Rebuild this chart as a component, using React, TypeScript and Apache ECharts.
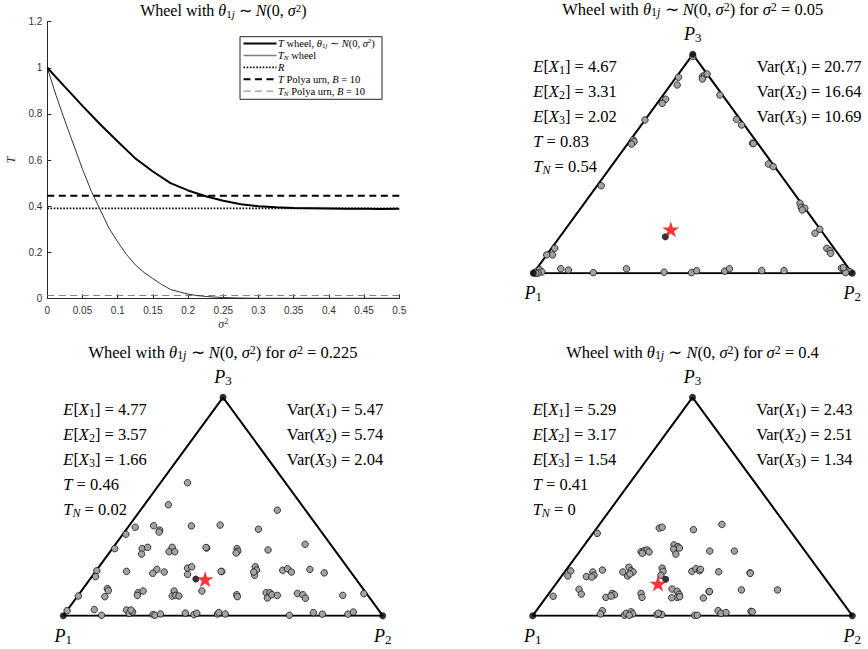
import React, { useEffect, useRef } from 'react';
import * as echarts from 'echarts';

// ---------- Top-left panel data ----------
const sigmaT = [0, 0.025, 0.05, 0.075, 0.1, 0.125, 0.15, 0.175, 0.2, 0.225, 0.25, 0.275, 0.3, 0.325, 0.35, 0.375, 0.4, 0.425, 0.45, 0.475, 0.5];
const tWheel = [1.0, 0.917, 0.835, 0.755, 0.68, 0.607, 0.55, 0.5, 0.468, 0.443, 0.423, 0.408, 0.399, 0.395, 0.392, 0.391, 0.39, 0.389, 0.389, 0.387, 0.388];
const sigmaTN = [0, 0.0125, 0.025, 0.0375, 0.05, 0.0625, 0.075, 0.0875, 0.1, 0.1125, 0.125, 0.1375, 0.15, 0.1625, 0.175, 0.1875, 0.2, 0.2125, 0.225, 0.25, 0.275, 0.3, 0.35, 0.4, 0.45, 0.5];
const tnWheel = [1.0, 0.88, 0.77, 0.665, 0.56, 0.465, 0.385, 0.305, 0.245, 0.19, 0.145, 0.112, 0.085, 0.06, 0.038, 0.028, 0.018, 0.012, 0.008, 0.003, 0.001, 0, 0, 0, 0, 0];
const rValue = 0.39;
const tPolya = 0.445;
const tnPolya = 0.012;
const legendLabels = [
  '{i|T} wheel, {i|θ}{sb|1}{sbi|j} ∼ {i|N}(0, {i|σ}{sp|2})',
  '{i|T}{sbi|N} wheel',
  '{i|R}',
  '{i|T} Polya urn, {i|B} = 10',
  '{i|T}{sbi|N} Polya urn, {i|B} = 10',
];

// ---------- Triangle panels data ----------
const panelSigma = ['0.05', '0.225', '0.4'];
const meanE = [[4.67, 3.31, 2.02], [4.77, 3.57, 1.66], [5.29, 3.17, 1.54]];
const varX = [[20.77, 16.64, 10.69], [5.47, 5.74, 2.04], [2.43, 2.51, 1.34]];
const tVals = [0.83, 0.46, 0.41];
const tnVals = [0.54, 0.02, 0];
const vertices = [[0, 0], [1, 0], [0.5, 1]];
const vertexNames = ['1', '2', '3'];

const pts005 = [
  [0.455, 0.895], [0.451, 0.86], [0.408, 0.791], [0.415, 0.795], [0.404, 0.776], [0.35, 0.7], [0.313, 0.609], [0.316, 0.601], [0.308, 0.59], [0.213, 0.4], [0.067, 0.114], [0.06, 0.084], [0.042, 0.084],
  [0.004, 0.004], [0.012, 0.01], [0.02, 0.016], [0.027, 0.006], [0.015, 0.001], [0.008, 0.0],
  [0.086, 0.021], [0.11, 0.015], [0.188, 0.003], [0.292, 0.021], [0.41, 0.005], [0.496, 0.003], [0.512, 0.012], [0.6, 0.01], [0.615, 0.021], [0.716, 0.012], [0.786, 0.012],
  [0.5, 0.99],
  [0.53, 0.898], [0.537, 0.905], [0.545, 0.91], [0.53, 0.887], [0.585, 0.814], [0.637, 0.703], [0.653, 0.677], [0.687, 0.594], [0.69, 0.592], [0.737, 0.499], [0.752, 0.487], [0.836, 0.32], [0.84, 0.301], [0.851, 0.297], [0.843, 0.289], [0.883, 0.183], [0.898, 0.201], [0.92, 0.114], [0.93, 0.103], [0.932, 0.091],
  [0.966, 0.023], [0.974, 0.015], [0.984, 0.012], [0.993, 0.007], [0.979, 0.003], [0.972, 0.026],
];
const pts0225 = [
  [0.389, 0.609], [0.329, 0.508], [0.283, 0.412], [0.302, 0.392], [0.3, 0.383], [0.401, 0.411], [0.491, 0.415], [0.225, 0.405], [0.196, 0.373], [0.161, 0.307], [0.247, 0.307], [0.264, 0.313], [0.245, 0.282], [0.341, 0.313], [0.331, 0.293], [0.349, 0.293], [0.449, 0.31], [0.447, 0.312], [0.105, 0.206], [0.101, 0.179], [0.198, 0.203], [0.293, 0.212], [0.28, 0.194], [0.316, 0.2], [0.389, 0.218], [0.402, 0.224], [0.389, 0.189], [0.496, 0.202], [0.494, 0.203], [0.138, 0.124], [0.141, 0.115], [0.13, 0.087], [0.234, 0.105], [0.25, 0.113], [0.232, 0.093], [0.347, 0.113], [0.341, 0.09], [0.352, 0.093], [0.362, 0.09], [0.434, 0.113], [0.047, 0.09], [0.012, 0.023], [0.097, 0.028], [0.12, 0.002], [0.198, 0.026], [0.206, 0.011], [0.217, 0.017], [0.212, 0.026], [0.281, 0.005], [0.287, 0.002], [0.304, 0.008], [0.382, 0.012], [0.409, 0.005], [0.418, 0.011], [0.483, 0.008], [0.487, 0.014],
  [0.67, 0.483], [0.611, 0.396], [0.757, 0.327], [0.544, 0.307], [0.546, 0.295], [0.541, 0.287], [0.641, 0.301], [0.601, 0.224], [0.605, 0.209], [0.599, 0.185], [0.596, 0.2], [0.687, 0.208], [0.702, 0.215], [0.714, 0.2], [0.772, 0.212], [0.817, 0.196], [0.543, 0.096], [0.545, 0.087], [0.635, 0.105], [0.647, 0.105], [0.639, 0.081], [0.653, 0.096], [0.67, 0.093], [0.733, 0.102], [0.75, 0.096], [0.758, 0.08], [0.875, 0.093], [0.941, 0.101], [0.507, 0.008], [0.708, 0.002], [0.783, 0.014], [0.811, 0.007], [0.891, 0.007], [0.908, 0.017],
];
const pts04 = [
  [0.202, 0.377], [0.396, 0.401], [0.405, 0.405], [0.339, 0.293], [0.349, 0.298], [0.358, 0.301], [0.364, 0.292], [0.343, 0.286], [0.442, 0.324], [0.454, 0.316], [0.441, 0.304], [0.448, 0.282], [0.459, 0.31], [0.119, 0.205], [0.11, 0.182], [0.168, 0.179], [0.188, 0.2], [0.192, 0.185], [0.185, 0.177], [0.218, 0.209], [0.282, 0.2], [0.301, 0.222], [0.308, 0.206], [0.314, 0.2], [0.297, 0.182], [0.304, 0.191], [0.405, 0.218], [0.408, 0.203], [0.401, 0.185], [0.064, 0.089], [0.145, 0.121], [0.152, 0.099], [0.229, 0.084], [0.249, 0.102], [0.256, 0.096], [0.245, 0.09], [0.339, 0.102], [0.342, 0.084], [0.436, 0.122], [0.452, 0.112], [0.458, 0.098], [0.452, 0.084], [0.435, 0.082], [0.46, 0.087], [0.218, 0.023], [0.212, 0.008], [0.287, 0.002], [0.293, 0.011], [0.308, 0.018], [0.313, 0.008], [0.302, 0.002], [0.389, 0.005], [0.398, 0.008], [0.404, 0.005], [0.393, 0.011],
  [0.503, 0.394], [0.592, 0.418], [0.554, 0.296], [0.631, 0.296], [0.498, 0.203], [0.511, 0.215], [0.522, 0.206], [0.525, 0.212], [0.582, 0.201], [0.68, 0.196], [0.681, 0.194], [0.534, 0.081], [0.552, 0.11], [0.553, 0.111], [0.653, 0.118], [0.766, 0.118], [0.507, 0.002], [0.515, 0.002], [0.58, 0.023], [0.589, 0.011], [0.605, 0.014], [0.683, 0.02], [0.687, 0.018],
];
const panelPoints = [pts005, pts0225, pts04];
const meanPoints = [[0.414, 0.167], [0.415, 0.168], [0.416, 0.167]];
const starPoints = [[0.431, 0.201], [0.444, 0.167], [0.392, 0.147]];

// ---------- Layout / style ----------
const W = 868;
const H = 649;
const SERIF = "'Liberation Serif', 'Times New Roman', serif";
const SANS = "'Liberation Sans', Arial, Helvetica, sans-serif";
const LINE_GRID = { left: 47.3, top: 21.7, width: 352, height: 276.6 };
const TRI = [
  { left: 533.3, top: 54.3, width: 319, height: 219 },
  { left: 63.3, top: 397.3, width: 319.4, height: 218.4 },
  { left: 532.7, top: 397.3, width: 319.6, height: 218.4 },
];
const STAR = 'path://M50,0 L61.2,34.5 L97.6,34.5 L68.2,55.9 L79.4,90.5 L50,69.1 L20.6,90.5 L31.8,55.9 L2.4,34.5 L38.8,34.5 Z';

function rich(size: number, lh: number) {
  const s = Math.round(size * 0.7);
  const b = { fontFamily: SERIF, fill: '#000' };
  return {
    i: { ...b, fontSize: size, fontStyle: 'italic', lineHeight: lh },
    r: { ...b, fontSize: size, lineHeight: lh },
    sb: { ...b, fontSize: s, lineHeight: s, verticalAlign: 'bottom' },
    sbi: { ...b, fontSize: s, fontStyle: 'italic', lineHeight: s, verticalAlign: 'bottom' },
    sp: { ...b, fontSize: s, lineHeight: s, verticalAlign: 'top' },
  };
}

function txt(x: number, y: number, text: string, size: number, lh: number, align = 'left') {
  return {
    type: 'text',
    x,
    y,
    z: 100,
    style: {
      text,
      rich: rich(size, lh),
      fontSize: size,
      fontFamily: SERIF,
      fill: '#000',
      lineHeight: lh,
      align,
      verticalAlign: 'middle',
    },
  };
}

const fmt = (v: number) => (v === 0 ? '0' : v.toFixed(2));

function buildOption() {
  const grid: any[] = [{ ...LINE_GRID, outerBoundsMode: 'none' }];
  TRI.forEach((t) => grid.push({ ...t, outerBoundsMode: 'none' }));

  const axisColor = '#262626';
  const xAxis: any[] = [
    {
      gridIndex: 0,
      type: 'value',
      min: 0,
      max: 0.5,
      interval: 0.05,
      splitLine: { show: false },
      axisLine: { show: true, onZero: false, lineStyle: { color: axisColor, width: 1 } },
      axisTick: { show: true, inside: true, length: 4, lineStyle: { color: axisColor } },
      axisLabel: { color: '#333', fontSize: 10, fontFamily: SANS, margin: 7 },
      name: '{i|σ}{sp|2}',
      nameLocation: 'middle',
      nameGap: 19,
      nameTextStyle: {
        rich: {
          i: { fontSize: 12, fontFamily: SERIF, fontStyle: 'italic', color: '#333', lineHeight: 14 },
          sp: { fontSize: 8, fontFamily: SERIF, color: '#333', lineHeight: 8, verticalAlign: 'top' },
        },
      },
    },
  ];
  const yAxis: any[] = [
    {
      gridIndex: 0,
      type: 'value',
      min: 0,
      max: 1.2,
      interval: 0.2,
      splitLine: { show: false },
      axisLine: { show: true, onZero: false, lineStyle: { color: axisColor, width: 1 } },
      axisTick: { show: true, inside: true, length: 4, lineStyle: { color: axisColor } },
      axisLabel: { color: '#333', fontSize: 10, fontFamily: SANS, margin: 5 },
      name: 'T',
      nameLocation: 'middle',
      nameGap: 30,
      nameRotate: 90,
      nameTextStyle: { fontSize: 12, fontFamily: SERIF, fontStyle: 'italic', color: '#333' },
    },
  ];
  TRI.forEach((_, k) => {
    xAxis.push({ gridIndex: k + 1, type: 'value', min: 0, max: 1, show: false });
    yAxis.push({ gridIndex: k + 1, type: 'value', min: 0, max: 1, show: false });
  });

  const series: any[] = [
    {
      name: 'T wheel',
      type: 'line',
      xAxisIndex: 0,
      yAxisIndex: 0,
      data: sigmaT.map((s, i) => [s, tWheel[i]]),
      symbol: 'none',
      lineStyle: { color: '#000', width: 2 },
      z: 5,
    },
    {
      name: 'TN wheel',
      type: 'line',
      xAxisIndex: 0,
      yAxisIndex: 0,
      data: sigmaTN.map((s, i) => [s, tnWheel[i]]),
      symbol: 'none',
      lineStyle: { color: '#333', width: 1 },
      z: 4,
    },
    {
      name: 'R',
      type: 'line',
      xAxisIndex: 0,
      yAxisIndex: 0,
      data: [[0, rValue], [0.5, rValue]],
      symbol: 'none',
      lineStyle: { color: '#000', width: 1.8, type: [1.6, 1.6] },
      z: 3,
    },
    {
      name: 'T Polya urn',
      type: 'line',
      xAxisIndex: 0,
      yAxisIndex: 0,
      data: [[0, tPolya], [0.5, tPolya]],
      symbol: 'none',
      lineStyle: { color: '#000', width: 2, type: [7, 4.5] },
      z: 3,
    },
    {
      name: 'TN Polya urn',
      type: 'line',
      xAxisIndex: 0,
      yAxisIndex: 0,
      data: [[0, tnPolya], [0.5, tnPolya]],
      symbol: 'none',
      lineStyle: { color: '#7f7f7f', width: 1, type: [7, 4.5] },
      z: 3,
    },
  ];

  TRI.forEach((_, k) => {
    const ax = k + 1;
    series.push({
      type: 'line',
      xAxisIndex: ax,
      yAxisIndex: ax,
      data: [...vertices, vertices[0]],
      symbol: 'none',
      lineStyle: { color: '#000', width: 2 },
      z: 2,
    });
    series.push({
      type: 'scatter',
      xAxisIndex: ax,
      yAxisIndex: ax,
      data: panelPoints[k],
      symbol: 'circle',
      symbolSize: 6.5,
      clip: false,
      itemStyle: { color: '#a3a3a3', borderColor: '#111', borderWidth: 0.8, opacity: 1 },
      z: 3,
    });
    series.push({
      type: 'scatter',
      xAxisIndex: ax,
      yAxisIndex: ax,
      data: vertices,
      symbol: 'circle',
      symbolSize: 7,
      clip: false,
      itemStyle: { color: '#000' },
      z: 4,
    });
    series.push({
      type: 'scatter',
      xAxisIndex: ax,
      yAxisIndex: ax,
      data: [meanPoints[k]],
      symbol: 'circle',
      symbolSize: 7,
      clip: false,
      itemStyle: { color: '#000' },
      z: 5,
    });
    series.push({
      type: 'scatter',
      xAxisIndex: ax,
      yAxisIndex: ax,
      data: [starPoints[k]],
      symbol: STAR,
      symbolSize: [17, 16],
      clip: false,
      itemStyle: { color: '#ff0000' },
      z: 6,
    });
  });

  const graphic: any[] = [];
  // top-left title
  graphic.push(txt(LINE_GRID.left + LINE_GRID.width / 2, 10.5, 'Wheel with {i|θ}{sb|1}{sbi|j} ∼ {i|N}(0, {i|σ}{sp|2})', 16, 17, 'center'));

  // legend
  const lx = 240, ly = 36.7, lw = 142, lh = 62.6;
  graphic.push({
    type: 'rect',
    z: 90,
    shape: { x: lx, y: ly, width: lw, height: lh },
    style: { fill: '#fff', stroke: '#262626', lineWidth: 1 },
  });
  const legendStyles = [
    { stroke: '#000', lineWidth: 2 },
    { stroke: '#808080', lineWidth: 1.5 },
    { stroke: '#000', lineWidth: 1.8, lineDash: [1.6, 1.6] },
    { stroke: '#000', lineWidth: 2, lineDash: [7, 4.5] },
    { stroke: '#7f7f7f', lineWidth: 1, lineDash: [7, 4.5] },
  ];
  legendLabels.forEach((lab, i) => {
    const y = 43.5 + i * 11.9;
    graphic.push({
      type: 'line',
      z: 95,
      shape: { x1: 243.5, y1: y, x2: 276.5, y2: y },
      style: legendStyles[i],
    });
    graphic.push(txt(278, y, lab, 10.5, 12));
  });

  // triangle panels
  TRI.forEach((t, k) => {
    const cx = t.left + t.width / 2;
    graphic.push(
      txt(cx, t.top - 44.5, `Wheel with {i|θ}{sb|1}{sbi|j} ∼ {i|N}(0, {i|σ}{sp|2}) for {i|σ}{sp|2} = ${panelSigma[k]}`, 16.5, 17, 'center'),
    );
    // vertex labels
    graphic.push(txt(cx, t.top - 20, `{i|P}{sb|${vertexNames[2]}}`, 18, 20, 'center'));
    graphic.push(txt(t.left, t.top + t.height + 20, `{i|P}{sb|${vertexNames[0]}}`, 18, 20, 'center'));
    graphic.push(txt(t.left + t.width, t.top + t.height + 20, `{i|P}{sb|${vertexNames[1]}}`, 18, 20, 'center'));
    // statistics
    const y0 = t.top + 12;
    const lines = [
      `{i|E}[{i|X}{sb|1}] = ${fmt(meanE[k][0])}`,
      `{i|E}[{i|X}{sb|2}] = ${fmt(meanE[k][1])}`,
      `{i|E}[{i|X}{sb|3}] = ${fmt(meanE[k][2])}`,
      `{i|T} = ${fmt(tVals[k])}`,
      `{i|T}{sbi|N} = ${fmt(tnVals[k])}`,
    ];
    lines.forEach((s, j) => graphic.push(txt(t.left, y0 + j * 25, s, 16.5, 20)));
    for (let j = 0; j < 3; j++) {
      graphic.push(txt(t.left + 223.5, y0 + j * 25, `Var({i|X}{sb|${j + 1}}) = ${fmt(varX[k][j])}`, 16.5, 20));
    }
  });

  return {
    animation: false,
    backgroundColor: '#fff',
    grid,
    xAxis,
    yAxis,
    series,
    graphic,
  };
}

export default function App() {
  const ref = useRef<HTMLDivElement>(null);
  useEffect(() => {
    if (!ref.current) return;
    const chart = echarts.init(ref.current, undefined, { renderer: 'svg', width: W, height: H });
    chart.setOption(buildOption() as any);
    return () => chart.dispose();
  }, []);
  return <div ref={ref} style={{ position: 'absolute', left: 0, top: 0, width: W, height: H, background: '#fff' }} />;
}
